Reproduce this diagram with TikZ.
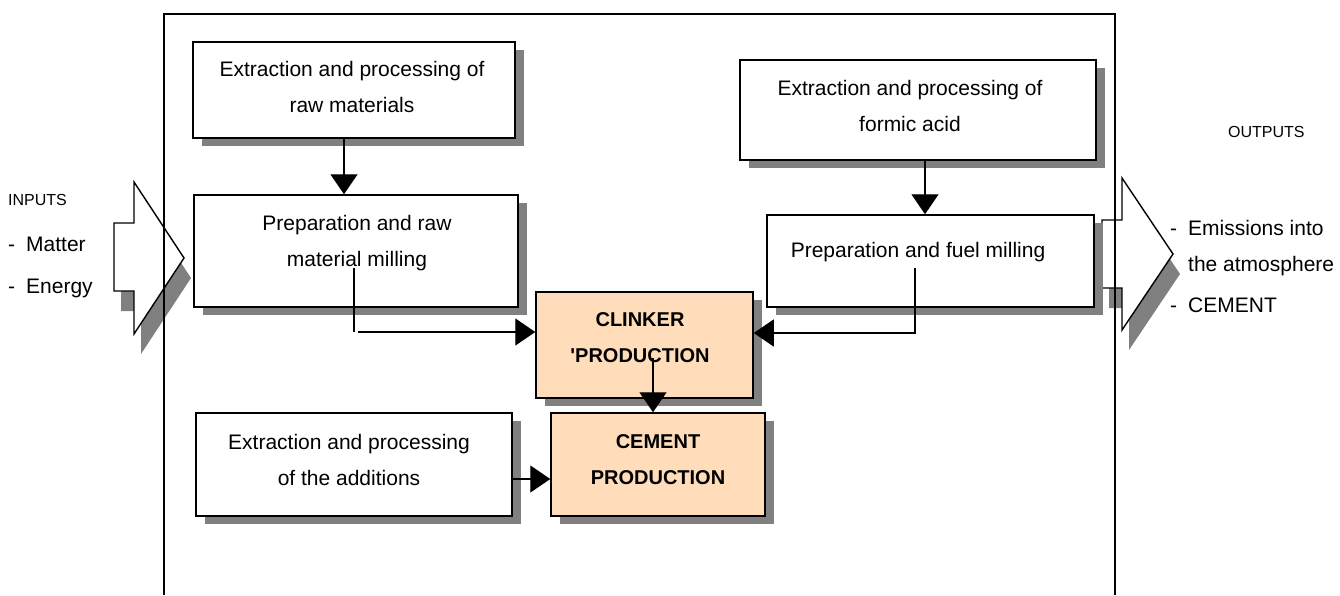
\documentclass[tikz,border=0pt]{standalone}
\usepackage{fontspec}
\setmainfont{Liberation Sans}
\usetikzlibrary{arrows.meta,shadows,calc}
\definecolor{peach}{RGB}{255,221,187}
\definecolor{shadowgrey}{RGB}{128,128,128}

\begin{document}
\begin{tikzpicture}[x=1pt,y=-1pt,
  box/.style={draw, line width=1.5pt, fill=white, inner sep=0pt,
    drop shadow={shadow xshift=9pt, shadow yshift=-8pt, fill=shadowgrey, opacity=1}},
  hot/.style={box, fill=peach},
  txt/.style={align=center, inner sep=0pt, font=\fontsize{21}{36}\selectfont},
  boldtxt/.style={txt, font=\fontsize{20}{36}\selectfont\bfseries},
  side/.style={anchor=base west, inner sep=0pt, font=\fontsize{21}{25}\selectfont},
  head/.style={anchor=base west, inner sep=0pt, font=\fontsize{16}{20}\selectfont},
  wire/.style={line width=1.4pt},
  flow/.style={wire, -{Triangle[length=20pt,width=27pt]}}]

\useasboundingbox (0,0) rectangle (1340,595);

% input arrow with its shadow
\begin{scope}[shift={(7,20)}]
  \fill[shadowgrey] (114,223) -- (134,223) -- (134,182) -- (184,258) -- (134,334) -- (134,291) -- (114,291) -- cycle;
\end{scope}
\filldraw[fill=white, line width=1.4pt] (114,223) -- (134,223) -- (134,182) -- (184,258) -- (134,334) -- (134,291) -- (114,291) -- cycle;

% output arrow with its shadow
\begin{scope}[shift={(7,20)}]
  \fill[shadowgrey] (1102,220) -- (1122,220) -- (1122,178) -- (1173,254) -- (1122,330) -- (1122,288) -- (1102,288) -- cycle;
\end{scope}
\filldraw[fill=white, line width=1.4pt] (1102,220) -- (1122,220) -- (1122,178) -- (1173,254) -- (1122,330) -- (1122,288) -- (1102,288) -- cycle;

% system boundary
\draw[line width=1.5pt] (164,595) -- (164,14) -- (1115,14) -- (1115,595);

% process boxes
\node[box, minimum width=322pt, minimum height=96pt]  (rawext)  at (354,90) {};
\node[box, minimum width=324pt, minimum height=112pt] (rawmill) at (356,251) {};
\node[box, minimum width=356pt, minimum height=100pt] (acidext) at (918,110) {};
\node[box, minimum width=327pt, minimum height=92pt]  (fuelmill) at (930.5,261) {};
\node[hot, minimum width=217pt, minimum height=106pt] (clinker) at (644.5,345) {};
\node[hot, minimum width=214pt, minimum height=103pt] (cement)  at (658,464.5) {};
\node[box, minimum width=316pt, minimum height=103pt] (addext)  at (354,464.5) {};

% box texts
\node[txt] at (352,87)  {Extraction and processing of\\raw materials};
\node[txt] at (357,243) {Preparation and raw\\material milling};
\node[txt] at (910,106) {Extraction and processing of\\formic acid};
\node[txt] at (918,252) {Preparation and fuel milling};
\node[boldtxt] at (640,338) {CLINKER\\\textquotesingle PRODUCTION};
\node[boldtxt] at (658,460) {CEMENT\\PRODUCTION};
\node[txt] at (349,460) {Extraction and processing\\of the additions};

% connectors
\coordinate (rawtap) at (354,268);
\coordinate (rawbend) at (354,332);
\coordinate (fueltap) at (915,268);
\coordinate (fuelbend) at (915,333);
\coordinate (clinkertap) at (653,358);

\draw[flow] ([xshift=-10pt]rawext.south) -- ([xshift=-10pt]rawext.south |- rawmill.north);
\draw[wire] (rawtap) -- (rawbend);
\draw[flow] ([xshift=4pt]rawbend) -- (rawbend -| clinker.west);
\draw[flow] ([xshift=7pt]acidext.south) -- ([xshift=7pt]acidext.south |- fuelmill.north);
\draw[flow] (fueltap) -- (fuelbend) -- (fuelbend -| clinker.east);
\draw[flow] (clinkertap) -- (clinkertap |- cement.north);
\draw[flow] ([yshift=-14.5pt]addext.east) -- ([yshift=-14.5pt]addext.east -| cement.west);

% inputs and outputs
\node[head] at (8,205) {INPUTS};
\node[side] at (8,251) {-\hspace{11pt}Matter};
\node[side] at (8,293) {-\hspace{11pt}Energy};

\node[head] at (1228,137) {OUTPUTS};
\node[side] at (1170,235) {-};
\node[side] at (1188,235) {Emissions into};
\node[side] at (1188,271) {the atmosphere};
\node[side] at (1170,312) {-};
\node[side] at (1188,312) {CEMENT};
\end{tikzpicture}
\end{document}
